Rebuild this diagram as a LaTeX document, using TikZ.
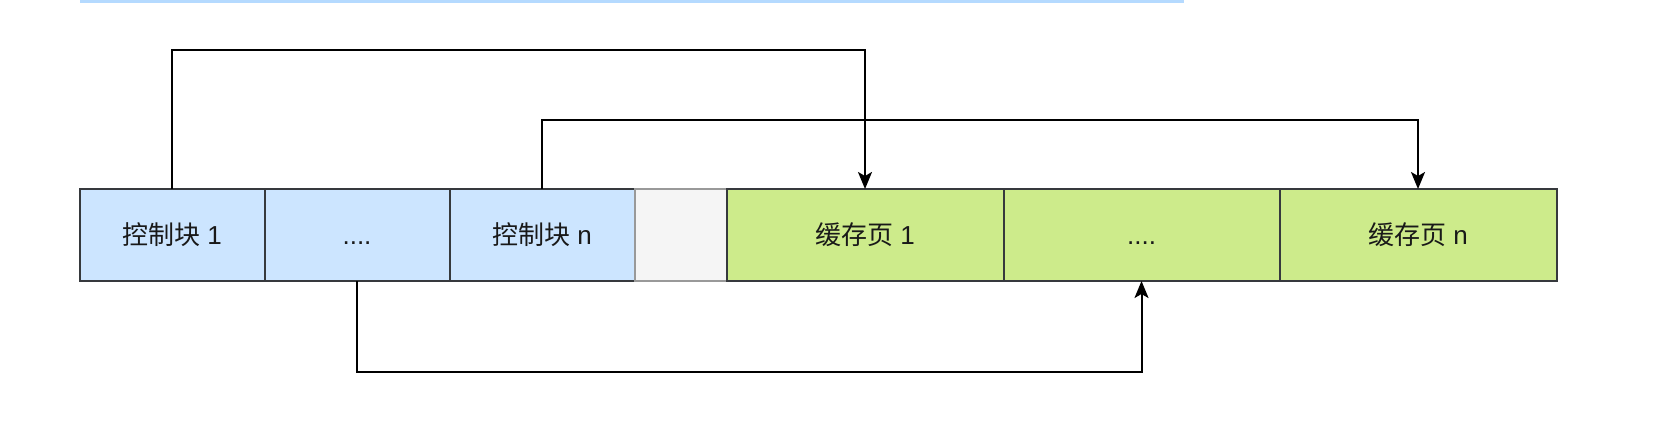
\documentclass[tikz,border=0pt]{standalone}
\usepackage{fontspec}
\setsansfont{Liberation Sans}
\newfontfamily\cjk{Noto Sans CJK SC}
\usetikzlibrary{positioning,arrows.meta}

\definecolor{ctrlblue}{HTML}{CCE5FF}
\definecolor{pagegreen}{HTML}{CDEB8B}
\definecolor{freegray}{HTML}{F5F5F5}
\definecolor{edgedark}{HTML}{36393D}
\definecolor{topblue}{HTML}{B5DAFF}

\tikzset{
  cell/.style={draw=edgedark, line width=2pt, minimum height=92pt,
    inner sep=0pt, outer sep=0pt, text height=21pt, text depth=3pt,
    font=\sffamily\fontsize{26}{30}\selectfont, text=black!90},
  ctrl/.style={cell, fill=ctrlblue, minimum width=185pt},
  free/.style={cell, fill=freegray, draw=gray!80, minimum width=92pt},
  page/.style={cell, fill=pagegreen, minimum width=277pt},
  link/.style={line width=2pt, -{Stealth[length=17pt,width=14pt,inset=4pt]}}
}

\begin{document}
\begin{tikzpicture}[x=1pt,y=-1pt]
	\useasboundingbox (0,0) rectangle (1662,444);

	% верхняя полоса
	\fill[topblue] (79.5,0) rectangle (1184,3);

	% управляющие блоки
	\node[ctrl, anchor=north west] (cb1) at (79.5,189) {{\cjk 控制块} 1};
	\node[ctrl, right=0pt of cb1] (cbdots) {....};
	\node[ctrl, right=0pt of cbdots] (cbn) {{\cjk 控制块} n};

	% свободная ячейка
	\node[free, right=0pt of cbn] (gap) {};

	% кэш-страницы
	\node[page, right=0pt of gap] (cp1) {{\cjk 缓存页} 1};
	\node[page, right=0pt of cp1, minimum width=276pt] (cpdots) {....};
	\node[page, right=0pt of cpdots] (cpn) {{\cjk 缓存页} n};

	% связи
	\draw[link] (cb1.north) -- ++(0,-139) -| (cp1.north);
	\draw[link] (cbn.north) -- ++(0,-69) -| (cpn.north);
	\draw[link] (cbdots.south) -- ++(0,91) -| (cpdots.south);

\end{tikzpicture}
\end{document}
